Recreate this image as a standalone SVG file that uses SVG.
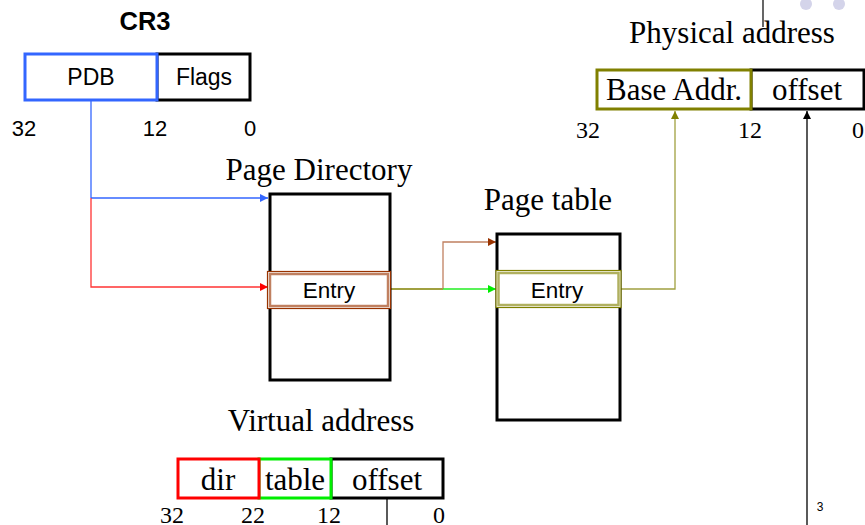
<svg xmlns="http://www.w3.org/2000/svg" width="865" height="525" viewBox="0 0 865 525">
<style>
.sans{font-family:"Liberation Sans",Arial,sans-serif;font-size:23px;fill:#000}
.entry{font-family:"Liberation Sans",Arial,sans-serif;font-size:22.5px;fill:#000}
.title{font-family:"Liberation Sans",Arial,sans-serif;font-size:25.5px;font-weight:bold;fill:#000}
.num{font-family:"Liberation Sans",Arial,sans-serif;font-size:22px;fill:#000}
.serif{font-family:"Liberation Serif","Times New Roman",serif;font-size:31px;fill:#000}
.snum{font-family:"Liberation Serif","Times New Roman",serif;font-size:24px;fill:#000}
.box{fill:#fff;stroke-width:3}
.conn{fill:none;stroke-width:1.3}
</style>
<defs>
<marker id="aBlue" viewBox="0 0 10 10" refX="10" refY="5" markerWidth="8" markerHeight="8" markerUnits="userSpaceOnUse" orient="auto"><path d="M0,0L10,5L0,10z" fill="#3366ff"/></marker>
<marker id="aRed" viewBox="0 0 10 10" refX="10" refY="5" markerWidth="8" markerHeight="8" markerUnits="userSpaceOnUse" orient="auto"><path d="M0,0L10,5L0,10z" fill="#ff0000"/></marker>
<marker id="aBrown" viewBox="0 0 10 10" refX="10" refY="5" markerWidth="8" markerHeight="8" markerUnits="userSpaceOnUse" orient="auto"><path d="M0,0L10,5L0,10z" fill="#993300"/></marker>
<marker id="aGreen" viewBox="0 0 10 10" refX="10" refY="5" markerWidth="8" markerHeight="8" markerUnits="userSpaceOnUse" orient="auto"><path d="M0,0L10,5L0,10z" fill="#00ee00"/></marker>
<marker id="aOlive" viewBox="0 0 10 10" refX="10" refY="5" markerWidth="8" markerHeight="8" markerUnits="userSpaceOnUse" orient="auto"><path d="M0,0L10,5L0,10z" fill="#808000"/></marker>
<marker id="aBlack" viewBox="0 0 10 10" refX="10" refY="5" markerWidth="8" markerHeight="8" markerUnits="userSpaceOnUse" orient="auto"><path d="M0,0L10,5L0,10z" fill="#000"/></marker>
</defs>
<rect width="865" height="525" fill="#fff"/>
<g id="decor">
<circle cx="806" cy="4" r="6" fill="#d4d4ea"/>
<circle cx="839" cy="4" r="6" fill="#d4d4ea"/>
<line x1="763" y1="0" x2="763" y2="27" stroke="#000" stroke-width="1.2"/>
</g>
<g id="connectors">
<path class="conn" d="M91,100V198" stroke="#3366ff"/>
<path class="conn" d="M91,198H268" stroke="#3366ff" marker-end="url(#aBlue)"/>
<path class="conn" d="M91,198V287H268" stroke="#ff3333" marker-end="url(#aRed)"/>
<path class="conn" d="M391,289H443" stroke="#808000"/>
<path class="conn" d="M443,289V242H496" stroke="#c08060" marker-end="url(#aBrown)"/>
<path class="conn" d="M443,289H496" stroke="#22ee22" marker-end="url(#aGreen)"/>
<path class="conn" d="M621,289H675V111" stroke="#a0a040" marker-end="url(#aOlive)"/>
<path class="conn" d="M807,525V111" stroke="#000" marker-end="url(#aBlack)"/>
<path class="conn" d="M387,498V525" stroke="#000"/>
</g>
<g id="cr3">
<text class="title" x="145" y="30" text-anchor="middle">CR3</text>
<rect class="box" x="157" y="54" width="93" height="46" stroke="#000"/>
<rect class="box" x="25" y="54" width="132" height="46" stroke="#3366ff"/>
<text class="sans" x="91" y="85" text-anchor="middle">PDB</text>
<text class="sans" x="204" y="85" text-anchor="middle">Flags</text>
<text class="num" x="24" y="136" text-anchor="middle">32</text>
<text class="num" x="155" y="136" text-anchor="middle">12</text>
<text class="num" x="250" y="136" text-anchor="middle">0</text>
</g>
<g id="page-directory">
<text class="serif" x="319" y="180" text-anchor="middle">Page Directory</text>
<rect class="box" x="270" y="194" width="120" height="186" stroke="#000"/>
<rect x="267.5" y="271.5" width="123" height="37" fill="#fff" stroke="#993300" stroke-width="1.2"/>
<rect x="270" y="274" width="118" height="32" fill="#fff" stroke="#c08060" stroke-width="2.5"/>
<text class="entry" x="329" y="298" text-anchor="middle">Entry</text>
</g>
<g id="page-table">
<text class="serif" x="548" y="210" text-anchor="middle">Page table</text>
<rect class="box" x="497" y="234" width="123" height="186" stroke="#000"/>
<rect x="496" y="270.5" width="125" height="37" fill="#fff" stroke="#808000" stroke-width="1.2"/>
<rect x="498.5" y="273" width="120" height="32" fill="#fff" stroke="#b0b060" stroke-width="2.5"/>
<text class="entry" x="557" y="298" text-anchor="middle">Entry</text>
</g>
<g id="physical-address">
<text class="serif" x="732" y="43" text-anchor="middle">Physical address</text>
<rect class="box" x="751" y="70" width="113" height="39" stroke="#000"/>
<rect class="box" x="597" y="70" width="154" height="39" stroke="#808000"/>
<text class="serif" x="674" y="100" text-anchor="middle">Base Addr.</text>
<text class="serif" x="807" y="100" text-anchor="middle">offset</text>
<text class="snum" x="588" y="138" text-anchor="middle">32</text>
<text class="snum" x="750" y="138" text-anchor="middle">12</text>
<text class="snum" x="858" y="138" text-anchor="middle">0</text>
</g>
<g id="virtual-address">
<text class="serif" x="321" y="431" text-anchor="middle">Virtual address</text>
<rect class="box" x="331" y="459" width="112" height="39" stroke="#000"/>
<rect class="box" x="259" y="459" width="72" height="39" stroke="#00ee00"/>
<rect class="box" x="178" y="459" width="81" height="39" stroke="#ff0000"/>
<text class="serif" x="218" y="490" text-anchor="middle">dir</text>
<text class="serif" x="295" y="490" text-anchor="middle">table</text>
<text class="serif" x="387" y="490" text-anchor="middle">offset</text>
<text class="snum" x="172" y="523" text-anchor="middle">32</text>
<text class="snum" x="253" y="523" text-anchor="middle">22</text>
<text class="snum" x="329" y="523" text-anchor="middle">12</text>
<text class="snum" x="439" y="523" text-anchor="middle">0</text>
</g>
<text x="820" y="511" text-anchor="middle" font-family="'Liberation Sans',Arial,sans-serif" font-size="12">3</text>
</svg>
